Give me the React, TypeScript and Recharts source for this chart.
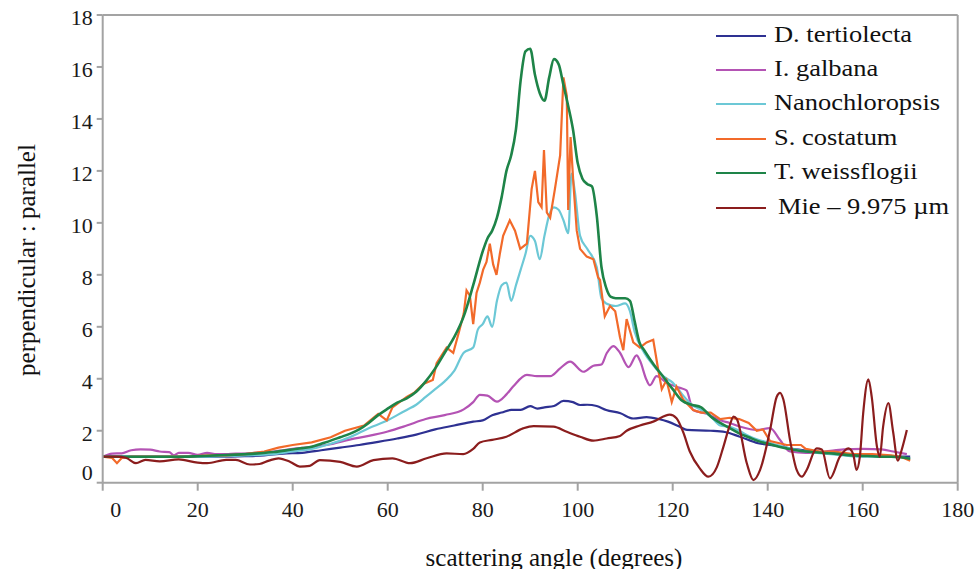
import React from "react";
import { LineChart, Line, XAxis, YAxis, ReferenceLine } from "recharts";

const FONT = '"Liberation Serif", "Times New Roman", Times, serif';
const AX = "#a3a3a3";

const xTicks = [0, 20, 40, 60, 80, 100, 120, 140, 160, 180];
const yTicks = [0, 2, 4, 6, 8, 10, 12, 14, 16, 18];

const seriesNames = [
  "D. tertiolecta",
  "I. galbana",
  "Nanochloropsis",
  "S. costatum",
  "T. weissflogii",
  "Mie \u2013 9.975 \u00b5m",
];
const seriesColors = ["#2E3192", "#B453B4", "#6CC8D6", "#F26A2A", "#1E8448", "#8B1D1D"];

// [angle (deg), ratio]
const dTertiolecta = [
  [0, 1.0], [5, 1.0], [10, 1.0], [15, 1.0], [20, 1.0], [25, 1.0], [30, 1.02], [34, 1.05],
  [38, 1.12], [42, 1.15], [46, 1.25], [50, 1.35], [54, 1.45], [58, 1.57], [62, 1.7],
  [66, 1.85], [70, 2.05], [74, 2.2], [78, 2.35], [80, 2.4], [82, 2.6], [84, 2.7], [86, 2.8],
  [88, 2.8], [90, 2.95], [91.5, 2.85], [93, 2.9], [95, 2.95], [97, 3.15], [99, 3.1],
  [100.5, 2.99], [102, 3.0], [104, 2.95], [106, 2.8], [109, 2.67], [111.7, 2.47],
  [114.5, 2.52], [117, 2.45], [119, 2.35], [121.5, 2.15], [123, 2.03], [128, 2.0],
  [131, 1.95], [134, 1.78], [138, 1.52], [142, 1.42], [146, 1.28], [150, 1.2], [154, 1.13],
  [158, 1.07], [162, 1.03], [166, 1.0], [170, 1.0],
];

const iGalbana = [
  [0, 1.0], [2, 1.12], [4, 1.13], [6, 1.25], [8, 1.28], [10, 1.27], [12, 1.2], [14, 1.18],
  [15, 1.05], [16, 1.15], [18, 1.15], [20, 1.07], [22, 1.15], [24, 1.1], [26, 1.1],
  [28, 1.12], [30, 1.12], [32, 1.15], [34, 1.18], [36, 1.2], [38, 1.25], [40, 1.3],
  [44, 1.38], [48, 1.48], [52, 1.66], [56, 1.8], [60, 1.97], [64, 2.2], [68, 2.45],
  [72, 2.6], [76, 2.82], [78, 3.1], [79.4, 3.38], [81, 3.35], [83, 3.12], [85, 3.4],
  [86.4, 3.7], [89.3, 4.15], [91.4, 4.1], [94.2, 4.1], [96.3, 4.4], [98.4, 4.66],
  [101.2, 4.27], [103.3, 4.5], [105, 4.55], [106.1, 4.98], [107.5, 5.26], [108.9, 5.0],
  [110.7, 4.45], [112.4, 4.9], [113.1, 4.7], [114.5, 3.95], [115.2, 3.75], [116.6, 4.1],
  [118.7, 3.85], [121.5, 3.65], [122.9, 3.55], [124.3, 2.8], [127.2, 2.65], [130, 2.4],
  [132, 2.3], [134.2, 2.16], [137.7, 2.03], [140.5, 2.1], [142.6, 1.64], [144.7, 1.2],
  [148, 1.15], [152, 1.2], [156, 1.28], [160, 1.3], [164, 1.28], [166.4, 1.2], [169.3, 1.1],
];

const nanochloropsis = [
  [0, 1.0], [10, 1.0], [20, 1.0], [30, 1.05], [36, 1.1], [40, 1.2], [44, 1.3], [48, 1.5],
  [52, 1.75], [56, 2.1], [60, 2.4], [62, 2.6], [64, 2.8], [66, 3.0], [68, 3.3], [70, 3.6],
  [72, 3.9], [74, 4.3], [76, 5.0], [78, 5.2], [79, 5.9], [80, 6.1], [81, 6.4], [82, 6.0],
  [83, 7.0], [84, 7.6], [85, 7.7], [86, 7.0], [87, 7.6], [88, 8.2], [89, 8.8], [90, 9.5],
  [91, 9.3], [92, 8.6], [93, 9.5], [94, 10.3], [95, 10.6], [96, 10.5], [97, 10.1],
  [98, 9.6], [98.7, 11.9], [99.4, 11.2], [100.5, 9.5], [102, 9.0], [104, 8.3], [105, 7.1],
  [106, 6.9], [108, 6.8], [110, 6.9], [111, 6.6], [112, 5.8], [114, 5.0], [116, 4.5],
  [118, 4.1], [120, 3.85], [122, 3.4], [124, 3.0], [126, 2.8], [128, 2.55], [130, 2.2],
  [132, 2.15], [134, 2.0], [136, 1.8], [138, 1.65], [140, 1.55], [144, 1.35], [148, 1.2],
  [152, 1.12], [156, 1.05], [160, 1.0], [164, 1.0], [168, 0.98], [170, 0.9],
];

const sCostatum = [
  [0, 1.0], [2, 0.95], [3, 0.75], [4, 0.95], [6, 1.0], [10, 1.0], [14, 1.0], [18, 1.0],
  [22, 1.05], [26, 1.05], [30, 1.1], [34, 1.2], [37, 1.35], [40, 1.45], [44, 1.55],
  [48, 1.75], [51, 2.0], [55, 2.2], [58, 2.65], [59.8, 2.4], [61, 2.9], [64, 3.3],
  [65.5, 3.45], [67.5, 3.8], [69.5, 3.95], [70.3, 4.6], [72.4, 5.2], [73.8, 5.0], [75, 5.8],
  [76, 6.5], [76.6, 7.4], [77.3, 7.2], [78, 6.1], [78.7, 7.3], [79.4, 7.7], [80.1, 8.2],
  [80.8, 8.5], [81.5, 9.2], [82.2, 8.4], [82.9, 8.0], [83.6, 8.8], [84.3, 9.5], [85.7, 10.1],
  [86.8, 9.7], [87.9, 9.0], [89.3, 9.2], [90.3, 11.3], [91, 12.0], [91.7, 10.8],
  [92.4, 10.6], [92.9, 12.8], [93.5, 10.4], [94.2, 10.2], [95.2, 11.3], [96.3, 12.6],
  [97, 15.6], [97.7, 14.9], [98, 10.5], [98.5, 13.3], [99.1, 11.5], [99.8, 9.7],
  [100.5, 9.0], [101.9, 8.7], [103.3, 8.6], [104.3, 7.9], [104.7, 7.8], [105.7, 6.4],
  [106.8, 6.8], [107.9, 6.6], [108.9, 5.6], [109.6, 5.1], [110.3, 6.3], [111.7, 5.4],
  [113.1, 5.2], [114.5, 5.4], [115.9, 5.5], [117, 4.3], [117.7, 3.6], [118.7, 3.95],
  [119.8, 3.1], [120.8, 3.7], [122.2, 3.2], [124.3, 2.8], [126, 2.7], [128, 2.7],
  [130, 2.45], [132, 2.5], [134, 2.45], [136, 2.3], [137.7, 2.0], [139, 2.05], [140.5, 1.6],
  [144, 1.45], [147, 1.45], [148, 1.3], [151, 1.2], [154, 1.2], [158, 1.1], [162, 1.1],
  [166, 1.05], [168, 1.0], [170, 0.85],
];

const tWeissflogii = [
  [0, 1.0], [4, 1.0], [8, 1.0], [12, 1.0], [16, 1.0], [20, 1.02], [24, 1.05], [28, 1.08],
  [32, 1.12], [36, 1.18], [40, 1.28], [42, 1.33], [44, 1.38], [46, 1.5], [48, 1.62],
  [50, 1.75], [52, 1.88], [54, 2.05], [56, 2.3], [58, 2.6], [60, 2.85], [62, 3.08],
  [64, 3.25], [66, 3.5], [68, 3.9], [70, 4.4], [72, 5.0], [74, 5.6], [76, 6.4], [78, 7.6],
  [80, 8.9], [81, 9.4], [82, 9.7], [83, 10.2], [84, 11.0], [85, 12.0], [86, 12.6],
  [87, 13.6], [88, 15.5], [89, 16.6], [90, 16.7], [91, 15.7], [92, 15.0], [93, 14.7],
  [94, 15.6], [95, 16.3], [96, 16.1], [97, 15.3], [98, 14.5], [99, 13.6], [100, 12.3],
  [101, 11.7], [102, 11.5], [103, 11.4], [104, 10.3], [105, 8.3], [106, 7.5], [107, 7.15],
  [108, 7.1], [110, 7.1], [111, 7.0], [112, 6.2], [113, 5.4], [114, 5.1], [116, 4.55],
  [118, 4.08], [120, 3.6], [122, 3.15], [124, 3.0], [126, 2.9], [128, 2.55], [130, 2.3],
  [132, 2.1], [134, 1.9], [136, 1.75], [138, 1.6], [140, 1.5], [142, 1.4], [144, 1.32],
  [146, 1.25], [148, 1.2], [150, 1.17], [152, 1.14], [154, 1.12], [156, 1.08], [158, 1.05],
  [160, 1.03], [162, 1.02], [164, 1.0], [166, 1.0], [168, 0.98], [170, 0.92],
];

const mie = [
  [0, 1.0], [3, 1.0], [5, 0.95], [7, 0.75], [9, 0.88], [12, 0.82], [16, 0.9], [20, 0.77],
  [22, 0.75], [26, 0.88], [28, 0.88], [31, 0.7], [33, 0.72], [35, 0.85], [37, 0.94],
  [39.5, 0.8], [41.5, 0.62], [43.6, 0.65], [45.7, 0.87], [50, 0.8], [53.5, 0.62], [57, 0.87],
  [61, 0.94], [64.7, 0.75], [68.2, 0.94], [72.4, 1.13], [75.9, 1.1], [78, 1.3], [79.4, 1.55],
  [82, 1.65], [85, 1.77], [88.5, 2.09], [90.7, 2.18], [94.9, 2.16], [97.7, 1.96],
  [100.5, 1.77], [103.3, 1.62], [106.1, 1.7], [108.9, 1.8], [110.3, 2.0], [113.1, 2.2],
  [115.9, 2.35], [119.4, 2.62], [120.8, 2.48], [122.2, 1.95], [123.6, 1.2], [125.7, 0.55],
  [127.5, 0.23], [129.3, 0.6], [130.7, 1.4], [132, 2.2], [132.8, 2.54], [133.5, 2.45],
  [135.6, 0.75], [137, 0.1], [138.4, 0.49], [140.5, 2.03], [141.9, 3.31], [142.6, 3.46],
  [143.3, 3.2], [144.7, 1.64], [146.1, 0.49], [147.2, 0.23], [148.2, 0.49], [150.3, 1.32],
  [151.4, 1.28], [153.1, 0.17], [155.2, 1.0], [157, 1.32], [158, 1.1], [158.7, 0.49],
  [159.4, 1.0], [160.1, 2.67], [161.2, 3.98], [161.9, 3.3], [163, 1.39], [163.6, 1.0],
  [164.3, 2.16], [165.4, 3.06], [166.4, 1.96], [167.4, 0.85], [168.2, 1.26], [169.3, 2.03],
];

const seriesData = [dTertiolecta, iGalbana, nanochloropsis, sCostatum, tWeissflogii, mie];
const toRows = (pts: number[][]) => pts.map(([a, v]) => ({ a, v }));

const W = 962;
const H = 561;

const XTick = (props: any) => {
  const { x, y, payload } = props;
  const dx = payload.value === 0 ? 13 : 0;
  return (
    <text
      x={x + dx}
      y={y}
      dy="0.71em"
      textAnchor="middle"
      fontSize={22}
      fill="#1a1a1a"
      fontFamily="Liberation Serif"
      style={{ fontFamily: FONT }}
    >
      {payload.value}
    </text>
  );
};

const YTick = (props: any) => {
  const { x, y, payload } = props;
  const dy = payload.value === 0 ? -11 : 2;
  return (
    <text
      x={x}
      y={y + dy}
      dy="0.355em"
      textAnchor="end"
      fontSize={22}
      fill="#1a1a1a"
      fontFamily="Liberation Serif"
      style={{ fontFamily: FONT }}
    >
      {payload.value}
    </text>
  );
};

export default function App() {
  return (
    <div style={{ padding: "8px 0 0 8px", width: 970, boxSizing: "border-box" }}>
      <style>{`body { margin: 0; } .recharts-surface { overflow: visible; } .recharts-wrapper { overflow: visible; }`}</style>
      <div style={{ position: "relative", width: W, height: H, fontFamily: FONT, background: "#fff" }}>
        <LineChart width={W} height={H} margin={{ top: 7, right: 12.3, bottom: 46.3, left: 34.7 }}>
          <XAxis
            type="number"
            dataKey="a"
            domain={[0, 180]}
            ticks={xTicks}
            interval={0}
            height={40}
            tickSize={8}
            tickMargin={11}
            stroke={AX}
            strokeWidth={2}
            tick={<XTick />}
            allowDataOverflow
          />
          <YAxis
            type="number"
            domain={[0, 18]}
            ticks={yTicks}
            interval={0}
            width={60}
            tickSize={6}
            tickMargin={4}
            stroke={AX}
            strokeWidth={2}
            tick={<YTick />}
            allowDataOverflow
          />
          <ReferenceLine y={18} stroke={AX} strokeWidth={2} />
          <ReferenceLine x={180} stroke={AX} strokeWidth={2} />
          {seriesData.map((pts, i) => (
            <Line
              key={seriesNames[i]}
              data={toRows(pts)}
              dataKey="v"
              type={i === 3 ? "linear" : "monotone"}
              stroke={seriesColors[i]}
              strokeWidth={i === 4 ? 2.6 : 2.2}
              dot={false}
              activeDot={false}
              isAnimationActive={false}
            />
          ))}
        </LineChart>

        {/* legend */}
        <div style={{ position: "absolute", left: 708, top: 27.7, pointerEvents: "none" }}>
          {seriesNames.map((name, i) => (
            <div
              key={name}
              style={{ position: "absolute", top: i * 34.4, left: 0, height: 0, whiteSpace: "nowrap" }}
            >
              <div
                style={{
                  position: "absolute",
                  left: 0,
                  top: -1,
                  width: 50,
                  height: 2,
                  background: seriesColors[i],
                }}
              />
              <div
                style={{
                  position: "absolute",
                  left: i === 5 ? 62 : 58,
                  top: -14,
                  fontSize: 23,
                  lineHeight: "26px",
                  color: "#111",
                  transform: "scaleX(1.15)",
                  transformOrigin: "left center",
                }}
              >
                {name}
              </div>
            </div>
          ))}
        </div>

        {/* axis titles */}
        <div
          style={{
            position: "absolute",
            left: 19,
            top: 252,
            transform: "translate(-50%, -50%) rotate(-90deg)",
            fontSize: 25,
            whiteSpace: "nowrap",
            color: "#111",
          }}
        >
          perpendicular : parallel
        </div>
        <div
          style={{
            position: "absolute",
            left: 546,
            top: 536,
            transform: "translateX(-50%)",
            fontSize: 25,
            lineHeight: "28px",
            whiteSpace: "nowrap",
            color: "#111",
          }}
        >
          scattering angle (degrees)
        </div>
      </div>
    </div>
  );
}
